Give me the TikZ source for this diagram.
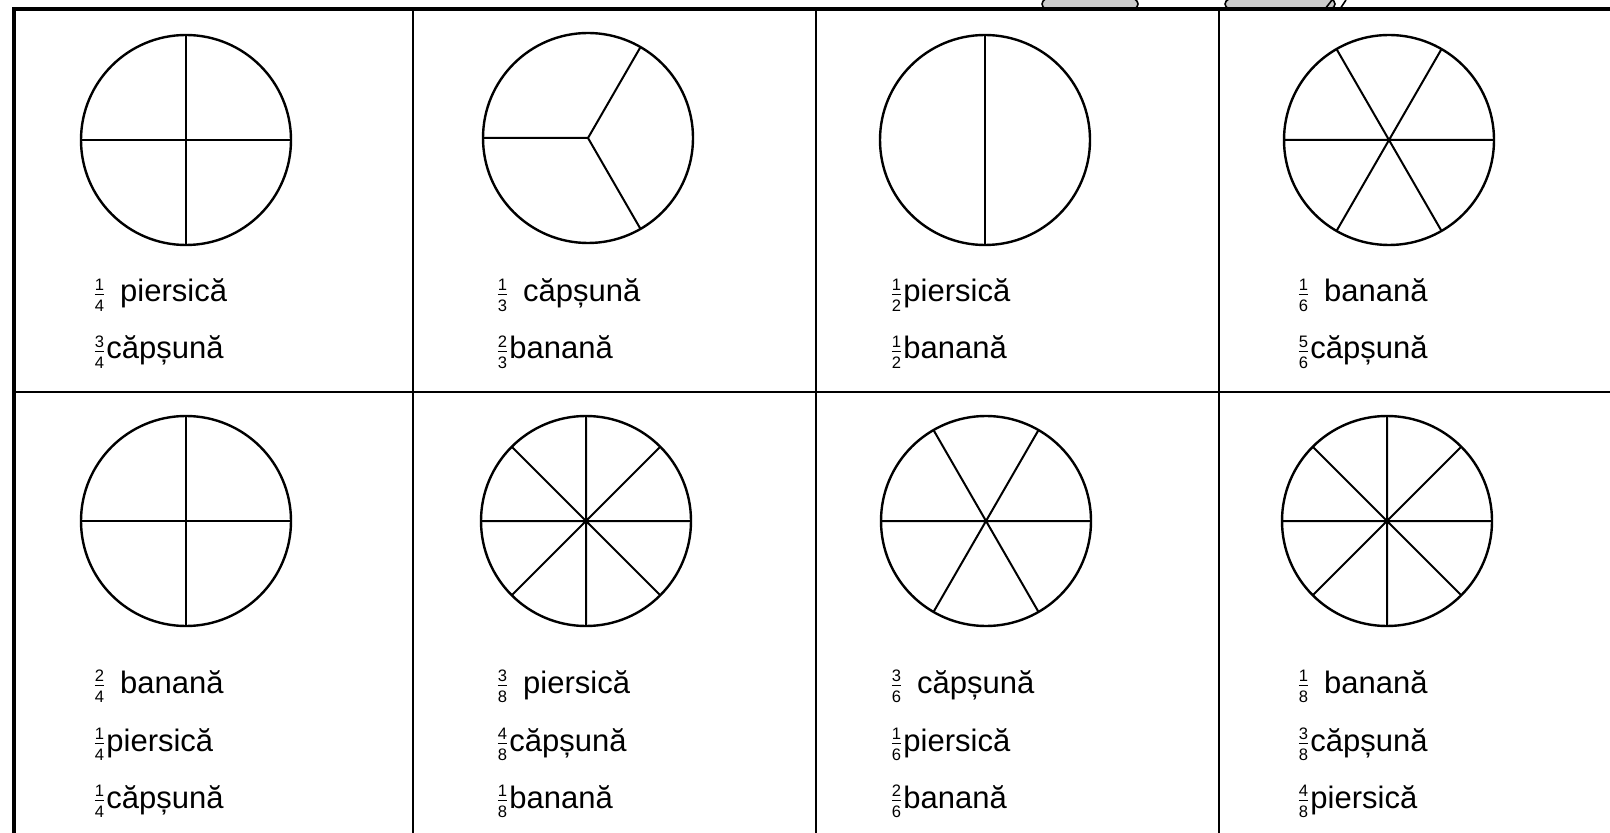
\documentclass[tikz,border=0pt]{standalone}
\usepackage{fontspec}
\usepackage{amsmath}
\setmainfont{Liberation Sans}
\newcommand\fr[2]{$\genfrac{}{}{0.5pt}{1}{\hbox{\fontsize{8.3}{8.3}\selectfont #1}}{\hbox{\fontsize{8.3}{8.3}\selectfont #2}}$}
\tikzset{
  pie/.style={circle, draw, line width=1.2pt, minimum size=105pt, inner sep=0pt, outer sep=0pt},
  cut/.style={line width=1pt},
  grid/.style={line width=1pt},
  frame/.style={line width=2.3pt},
  lbl/.style={anchor=base west, inner sep=0pt, font=\fontsize{15.5}{18}\selectfont},
}
\begin{document}
\begin{tikzpicture}[x=0.5pt,y=-0.5pt]
\useasboundingbox (0,0) rectangle (1610,833);
% partial grey shapes above the frame
\begin{scope}
\clip (990,0) rectangle (1400,9);
\draw[fill=gray!40, line width=0.8pt] (1090,4) ellipse (48 and 14);
\draw[fill=gray!40, line width=0.8pt] (1280,4) ellipse (55 and 14);
\draw[line width=0.8pt] (1325,9) -- (1332,0) (1340,9) -- (1346,0);
\end{scope}
% grid
\coordinate (tl) at (14,9);
\coordinate (tr) at (1610,9);
\coordinate (bl) at (14,833);
\coordinate (ml) at (14,392);
\coordinate (mr) at (1610,392);
\foreach \x/\n in {413/a,816/b,1219/c}{
  \coordinate (v\n t) at (\x,9);
  \coordinate (v\n b) at (\x,833);
  \draw[grid] (v\n t) -- (v\n b);
}
\draw[grid] (ml) -- (mr);
\draw[frame] (bl) -- (tl) -- (tr);
% row 1 pies
\node[pie] (p11) at (186,140) {};
\draw[cut] (p11.north) -- (p11.south) (p11.west) -- (p11.east);
\node[pie] (p12) at (588,138) {};
\draw[cut] (p12.center) -- (p12.180) (p12.center) -- (p12.60) (p12.center) -- (p12.-60);
\node[pie] (p13) at (985,140) {};
\draw[cut] (p13.north) -- (p13.south);
\node[pie] (p14) at (1389,140) {};
\draw[cut] (p14.west) -- (p14.east) (p14.60) -- (p14.240) (p14.120) -- (p14.300);
% row 2 pies
\node[pie] (p21) at (186,521) {};
\draw[cut] (p21.north) -- (p21.south) (p21.west) -- (p21.east);
\node[pie] (p22) at (586,521) {};
\draw[cut] (p22.north) -- (p22.south) (p22.west) -- (p22.east) (p22.45) -- (p22.225) (p22.135) -- (p22.315);
\node[pie] (p23) at (986,521) {};
\draw[cut] (p23.west) -- (p23.east) (p23.60) -- (p23.240) (p23.120) -- (p23.300);
\node[pie] (p24) at (1387,521) {};
\draw[cut] (p24.north) -- (p24.south) (p24.west) -- (p24.east) (p24.45) -- (p24.225) (p24.135) -- (p24.315);
% row 1 labels
\node[lbl] (t11a) at (92,302) {\fr{1}{4}\, piersică};
\node[lbl] (t11b) at (92,359) {\fr{3}{4}căpșună};
\node[lbl] (t12a) at (495,302) {\fr{1}{3}\, căpșună};
\node[lbl] (t12b) at (495,359) {\fr{2}{3}banană};
\node[lbl] (t13a) at (889,302) {\fr{1}{2}piersică};
\node[lbl] (t13b) at (889,359) {\fr{1}{2}banană};
\node[lbl] (t14a) at (1296,302) {\fr{1}{6}\, banană};
\node[lbl] (t14b) at (1296,359) {\fr{5}{6}căpșună};
% row 2 labels
\node[lbl] (t21a) at (92,693) {\fr{2}{4}\, banană};
\node[lbl] (t21b) at (92,751) {\fr{1}{4}piersică};
\node[lbl] (t21c) at (92,808) {\fr{1}{4}căpșună};
\node[lbl] (t22a) at (495,693) {\fr{3}{8}\, piersică};
\node[lbl] (t22b) at (495,751) {\fr{4}{8}căpșună};
\node[lbl] (t22c) at (495,808) {\fr{1}{8}banană};
\node[lbl] (t23a) at (889,693) {\fr{3}{6}\, căpșună};
\node[lbl] (t23b) at (889,751) {\fr{1}{6}piersică};
\node[lbl] (t23c) at (889,808) {\fr{2}{6}banană};
\node[lbl] (t24a) at (1296,693) {\fr{1}{8}\, banană};
\node[lbl] (t24b) at (1296,751) {\fr{3}{8}căpșună};
\node[lbl] (t24c) at (1296,808) {\fr{4}{8}piersică};
\end{tikzpicture}
\end{document}
